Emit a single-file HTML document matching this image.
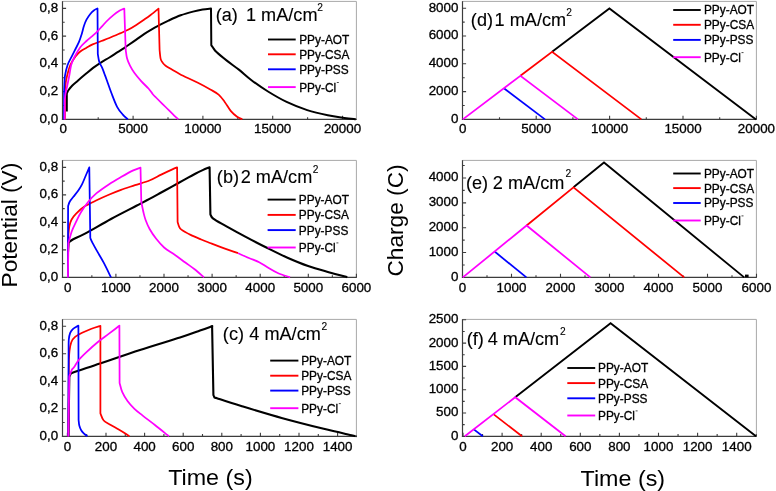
<!DOCTYPE html>
<html><head><meta charset="utf-8"><style>
html,body{margin:0;padding:0;background:#fff;width:776px;height:491px;overflow:hidden;}
svg{display:block;will-change:transform;}
text{font-family:"Liberation Sans",sans-serif;}
.s{stroke:#000;stroke-width:0.3px;}
.t{stroke:#000;stroke-width:0.12px;}
</style></head><body>
<svg width="776" height="491" viewBox="0 0 776 491" style="position:absolute;left:0;top:0;font-family:'Liberation Sans', sans-serif">
<rect width="776" height="491" fill="#fff"/>
<line x1="62.5" y1="1.4" x2="356.4" y2="1.4" stroke="#a8a8a8" stroke-width="1"/>
<line x1="356.4" y1="1.4" x2="356.4" y2="119.4" stroke="#a8a8a8" stroke-width="1"/>
<line x1="62.5" y1="1.2" x2="62.5" y2="120" stroke="#3c3c3c" stroke-width="1.2"/>
<line x1="61.9" y1="119.4" x2="356.8" y2="119.4" stroke="#3c3c3c" stroke-width="1.2"/>
<path d="M62.5,91.64h3.6M62.5,63.88h3.6M62.5,36.12h3.6M62.5,8.36h3.6M62.5,105.52h2.2M62.5,77.76h2.2M62.5,50h2.2M62.5,22.24h2.2" stroke="#3c3c3c" stroke-width="1.1" fill="none"/>
<path d="M133.1,119.4v-3.6M202.9,119.4v-3.6M272.7,119.4v-3.6M342.5,119.4v-3.6M98.2,119.4v-2.2M168,119.4v-2.2M237.8,119.4v-2.2M307.6,119.4v-2.2" stroke="#3c3c3c" stroke-width="1.1" fill="none"/>
<text transform="translate(58.1,122.8) scale(1.03,1)" font-size="13" text-anchor="end" fill="#000" class="s">0,0</text>
<text transform="translate(58.1,95.04) scale(1.03,1)" font-size="13" text-anchor="end" fill="#000" class="s">0,2</text>
<text transform="translate(58.1,67.28) scale(1.03,1)" font-size="13" text-anchor="end" fill="#000" class="s">0,4</text>
<text transform="translate(58.1,39.52) scale(1.03,1)" font-size="13" text-anchor="end" fill="#000" class="s">0,6</text>
<text transform="translate(58.1,11.76) scale(1.03,1)" font-size="13" text-anchor="end" fill="#000" class="s">0,8</text>
<text transform="translate(63.3,132.6) scale(1.03,1)" font-size="13" text-anchor="middle" fill="#000" class="s">0</text>
<text transform="translate(133.1,132.6) scale(1.03,1)" font-size="13" text-anchor="middle" fill="#000" class="s">5000</text>
<text transform="translate(202.9,132.6) scale(1.03,1)" font-size="13" text-anchor="middle" fill="#000" class="s">10000</text>
<text transform="translate(272.7,132.6) scale(1.03,1)" font-size="13" text-anchor="middle" fill="#000" class="s">15000</text>
<text transform="translate(342.5,132.6) scale(1.03,1)" font-size="13" text-anchor="middle" fill="#000" class="s">20000</text>
<path d="M66.8,111.4 L66.8,93.5 C67.1,92.92 67.72,91.3 68.6,90 C69.48,88.7 70.57,87.25 72.1,85.7 C73.63,84.15 75.65,82.55 77.8,80.7 C79.95,78.85 82.45,76.73 85,74.6 C87.55,72.47 90.52,69.87 93.1,67.9 C95.68,65.93 97.78,64.53 100.5,62.8 C103.22,61.07 106.55,59.27 109.4,57.5 C112.25,55.73 115.15,53.77 117.6,52.2 C120.05,50.63 122.35,49.25 124.1,48.1 C125.85,46.95 126.07,46.72 128.1,45.3 C130.13,43.88 133.58,41.52 136.3,39.6 C139.02,37.68 141.68,35.6 144.4,33.8 C147.12,32 150.32,30.13 152.6,28.8 C154.88,27.47 155.45,27.17 158.1,25.8 C160.75,24.43 164.73,22.35 168.5,20.6 C172.27,18.85 176.62,16.8 180.7,15.3 C184.78,13.8 189.33,12.57 193,11.6 C196.67,10.63 199.7,10 202.7,9.5 C205.7,9 209.62,8.75 211,8.6 L211.3,45.2 C211.58,45.6 212.13,46.47 213,47.6 C213.87,48.73 214.2,49.83 216.5,52 C218.8,54.17 223.02,57.62 226.8,60.6 C230.58,63.58 235.08,66.63 239.2,69.9 C243.32,73.17 246.7,76.6 251.5,80.2 C256.3,83.8 262.15,87.88 268,91.5 C273.85,95.12 280.07,98.8 286.6,101.9 C293.13,105 300.33,107.87 307.2,110.1 C314.07,112.33 321.62,114 327.8,115.3 C333.98,116.6 339.63,117.23 344.3,117.9 C348.97,118.57 353.88,119.07 355.8,119.3" fill="none" stroke="#000" stroke-width="2" stroke-linejoin="round" stroke-linecap="butt"/>
<path d="M64.9,119.4 L65.1,92 C65.2,90.47 65.37,85.52 65.7,82.8 C66.03,80.08 66.33,78.67 67.1,75.7 C67.87,72.73 68.9,68.22 70.3,65 C71.7,61.78 73.83,58.65 75.5,56.4 C77.17,54.15 78.47,52.93 80.3,51.5 C82.13,50.07 84.45,48.98 86.5,47.8 C88.55,46.62 90.13,45.53 92.6,44.4 C95.07,43.27 98.52,42.07 101.3,41 C104.08,39.93 106.18,39.27 109.3,38 C112.42,36.73 116.87,34.77 120,33.4 C123.13,32.03 125.38,31.22 128.1,29.8 C130.82,28.38 133.72,26.53 136.3,24.9 C138.88,23.27 141.22,21.65 143.6,20 C145.98,18.35 148.12,16.9 150.6,15 C153.08,13.1 157.18,9.67 158.5,8.6 L159.6,50 C159.77,51.43 160.12,56.52 160.6,58.6 C161.08,60.68 161.67,61.32 162.5,62.5 C163.33,63.68 163.9,64.45 165.6,65.7 C167.3,66.95 170.3,68.58 172.7,70 C175.1,71.42 175.8,72.07 180,74.2 C184.2,76.33 192.85,80.25 197.9,82.8 C202.95,85.35 206.85,87.53 210.3,89.5 C213.75,91.47 216.2,92.53 218.6,94.6 C221,96.67 222.65,99.15 224.7,101.9 C226.75,104.65 228.83,108.63 230.9,111.1 C232.97,113.57 235.2,115.33 237.1,116.7 C239,118.07 241.43,118.87 242.3,119.3" fill="none" stroke="#ff0000" stroke-width="1.75" stroke-linejoin="round" stroke-linecap="butt"/>
<path d="M64,119.4 L64.1,92 C64.13,91.07 64.15,89.12 64.3,86.4 C64.45,83.68 64.45,79.27 65,75.7 C65.55,72.13 66.47,68.22 67.6,65 C68.73,61.78 70.48,59.07 71.8,56.4 C73.12,53.73 74.28,51.45 75.5,49 C76.72,46.55 78.08,44.13 79.1,41.7 C80.12,39.27 80.78,37.05 81.6,34.4 C82.42,31.75 83.18,28.25 84,25.8 C84.82,23.35 85.48,21.63 86.5,19.7 C87.52,17.77 88.88,15.73 90.1,14.2 C91.32,12.67 92.57,11.45 93.8,10.5 C95.03,9.55 96.88,8.83 97.5,8.5 L97.8,54 C98.05,55.33 98.58,59.72 99.3,62 C100.02,64.28 101.22,65.67 102.1,67.7 C102.98,69.73 103.77,71.98 104.6,74.2 C105.43,76.42 105.97,77.87 107.1,81 C108.23,84.13 109.73,88.7 111.4,93 C113.07,97.3 115.2,103.2 117.1,106.8 C119,110.4 121.02,112.52 122.8,114.6 C124.58,116.68 126.97,118.52 127.8,119.3" fill="none" stroke="#0000ff" stroke-width="1.75" stroke-linejoin="round" stroke-linecap="butt"/>
<path d="M64.6,119.6 L64.8,100 C64.93,98.83 65.22,95.27 65.6,93 C65.98,90.73 66.48,89.28 67.1,86.4 C67.72,83.52 68.62,79.27 69.3,75.7 C69.98,72.13 70.38,68.03 71.2,65 C72.02,61.97 72.68,60.47 74.2,57.5 C75.72,54.53 78.25,49.95 80.3,47.2 C82.35,44.45 84.45,42.9 86.5,41 C88.55,39.1 90.77,37.42 92.6,35.8 C94.43,34.18 95.93,32.87 97.5,31.3 C99.07,29.73 100.52,28.03 102,26.4 C103.48,24.77 104.45,23.42 106.4,21.5 C108.35,19.58 111.47,16.72 113.7,14.9 C115.93,13.08 118.03,11.65 119.8,10.6 C121.57,9.55 123.55,8.93 124.3,8.6 L125.7,50 C125.93,51.43 126.38,55.98 127.1,58.6 C127.82,61.22 128.8,63.33 130,65.7 C131.2,68.07 132.4,70.18 134.3,72.8 C136.2,75.42 139.03,78.78 141.4,81.4 C143.77,84.02 146.6,86.37 148.5,88.5 C150.4,90.63 151.38,92.53 152.8,94.2 C154.22,95.87 154.87,96.37 157,98.5 C159.13,100.63 162.73,104.15 165.6,107 C168.47,109.85 172.07,113.55 174.2,115.6 C176.33,117.65 177.7,118.68 178.4,119.3" fill="none" stroke="#ff00ff" stroke-width="1.75" stroke-linejoin="round" stroke-linecap="butt"/>
<line x1="268" y1="39.5" x2="295.7" y2="39.5" stroke="#000" stroke-width="1.9"/>
<text transform="translate(299.2,43.9) scale(0.99,1)" font-size="12" text-anchor="start" fill="#000" class="s">PPy-AOT</text>
<line x1="268" y1="54.3" x2="295.7" y2="54.3" stroke="#ff0000" stroke-width="1.9"/>
<text transform="translate(299.2,58.7) scale(0.99,1)" font-size="12" text-anchor="start" fill="#000" class="s">PPy-CSA</text>
<line x1="268" y1="69.3" x2="295.7" y2="69.3" stroke="#0000ff" stroke-width="1.9"/>
<text transform="translate(299.2,73.7) scale(0.99,1)" font-size="12" text-anchor="start" fill="#000" class="s">PPy-PSS</text>
<line x1="268" y1="87.1" x2="295.7" y2="87.1" stroke="#ff00ff" stroke-width="1.9"/>
<text transform="translate(299.2,91.5) scale(0.99,1)" font-size="12" text-anchor="start" fill="#000" class="s">PPy-Cl</text>
<line x1="336.8" y1="82.5" x2="338.8" y2="82.5" stroke="#333" stroke-width="0.9"/>
<text transform="translate(215.66,21.2) scale(1.03,1)" font-size="17.6" text-anchor="start" fill="#000" class="t">(a)</text>
<text transform="translate(245.99,21.2) scale(1.03,1)" font-size="17.6" text-anchor="start" fill="#000" class="t">1 mA/cm</text>
<text transform="translate(317.35,11.2)" font-size="10.2" text-anchor="start" fill="#000" class="t">2</text>
<line x1="62.5" y1="160.4" x2="356.4" y2="160.4" stroke="#a8a8a8" stroke-width="1"/>
<line x1="356.4" y1="160.4" x2="356.4" y2="277.4" stroke="#a8a8a8" stroke-width="1"/>
<line x1="62.5" y1="160.2" x2="62.5" y2="278" stroke="#3c3c3c" stroke-width="1.2"/>
<line x1="61.9" y1="277.4" x2="356.8" y2="277.4" stroke="#3c3c3c" stroke-width="1.2"/>
<path d="M62.5,249.9h3.6M62.5,222.4h3.6M62.5,194.9h3.6M62.5,167.4h3.6M62.5,263.65h2.2M62.5,236.15h2.2M62.5,208.65h2.2M62.5,181.15h2.2" stroke="#3c3c3c" stroke-width="1.1" fill="none"/>
<path d="M67.8,277.4v-3.6M115.9,277.4v-3.6M164,277.4v-3.6M212.1,277.4v-3.6M260.2,277.4v-3.6M308.3,277.4v-3.6M356.4,277.4v-3.6M91.85,277.4v-2.2M139.95,277.4v-2.2M188.05,277.4v-2.2M236.15,277.4v-2.2M284.25,277.4v-2.2M332.35,277.4v-2.2" stroke="#3c3c3c" stroke-width="1.1" fill="none"/>
<text transform="translate(58.1,280.8) scale(1.03,1)" font-size="13" text-anchor="end" fill="#000" class="s">0,0</text>
<text transform="translate(58.1,253.3) scale(1.03,1)" font-size="13" text-anchor="end" fill="#000" class="s">0,2</text>
<text transform="translate(58.1,225.8) scale(1.03,1)" font-size="13" text-anchor="end" fill="#000" class="s">0,4</text>
<text transform="translate(58.1,198.3) scale(1.03,1)" font-size="13" text-anchor="end" fill="#000" class="s">0,6</text>
<text transform="translate(58.1,170.8) scale(1.03,1)" font-size="13" text-anchor="end" fill="#000" class="s">0,8</text>
<text transform="translate(67.8,291.6) scale(1.03,1)" font-size="13" text-anchor="middle" fill="#000" class="s">0</text>
<text transform="translate(115.9,291.6) scale(1.03,1)" font-size="13" text-anchor="middle" fill="#000" class="s">1000</text>
<text transform="translate(164,291.6) scale(1.03,1)" font-size="13" text-anchor="middle" fill="#000" class="s">2000</text>
<text transform="translate(212.1,291.6) scale(1.03,1)" font-size="13" text-anchor="middle" fill="#000" class="s">3000</text>
<text transform="translate(260.2,291.6) scale(1.03,1)" font-size="13" text-anchor="middle" fill="#000" class="s">4000</text>
<text transform="translate(308.3,291.6) scale(1.03,1)" font-size="13" text-anchor="middle" fill="#000" class="s">5000</text>
<text transform="translate(356.4,291.6) scale(1.03,1)" font-size="13" text-anchor="middle" fill="#000" class="s">6000</text>
<path d="M68,252 L68.6,242.4 C69.37,241.87 70.38,240.7 73.2,239.2 C76.02,237.7 79.2,236.77 85.5,233.4 C91.8,230.03 102.52,223.6 111,219 C119.48,214.4 129.9,209.18 136.4,205.8 C142.9,202.42 145.87,200.92 150,198.7 C154.13,196.48 157.47,194.57 161.2,192.5 C164.93,190.43 168.67,188.35 172.4,186.3 C176.13,184.25 179.87,182.25 183.6,180.2 C187.33,178.15 191.62,175.68 194.8,174 C197.98,172.32 200.23,171.22 202.7,170.1 C205.17,168.98 208.45,167.77 209.6,167.3 L210.4,214.4 C210.87,215.1 210.67,216.7 213.2,218.6 C215.73,220.5 220.1,222.72 225.6,225.8 C231.1,228.88 239.32,233.43 246.2,237.1 C253.08,240.77 260.02,244.37 266.9,247.8 C273.78,251.23 280.63,254.67 287.5,257.7 C294.37,260.73 301.23,263.58 308.1,266 C314.97,268.42 322.17,270.33 328.7,272.2 C335.23,274.07 344.2,276.37 347.3,277.2" fill="none" stroke="#000" stroke-width="2.1" stroke-linejoin="round" stroke-linecap="butt"/>
<path d="M68,277.4 L68.3,236 C68.48,234.33 68.85,228.75 69.4,226 C69.95,223.25 70.52,221.53 71.6,219.5 C72.68,217.47 73.77,215.95 75.9,213.8 C78.03,211.65 80.95,208.85 84.4,206.6 C87.85,204.35 92.53,202.27 96.6,200.3 C100.67,198.33 104.73,196.53 108.8,194.8 C112.87,193.07 116.63,191.5 121,189.9 C125.37,188.3 130.17,186.82 135,185.2 C139.83,183.58 145.63,181.97 150,180.2 C154.37,178.43 157.47,176.4 161.2,174.6 C164.93,172.8 169.75,170.6 172.4,169.4 C175.05,168.2 176.32,167.73 177.1,167.4 L177.6,222 C177.83,222.72 178.37,225.03 179,226.3 C179.63,227.57 179.47,228.17 181.4,229.6 C183.33,231.03 187.3,233.25 190.6,234.9 C193.9,236.55 197.97,238.15 201.2,239.5 C204.43,240.85 206.62,241.68 210,243 C213.38,244.32 216.83,245.7 221.5,247.4 C226.17,249.1 235.25,252.23 238,253.2" fill="none" stroke="#ff0000" stroke-width="1.75" stroke-linejoin="round" stroke-linecap="butt"/>
<path d="M238,253.2 C239.82,254 245.37,256.5 248.9,258 C252.43,259.5 256.12,260.65 259.2,262.2 C262.28,263.75 264.32,265.5 267.4,267.3 C270.48,269.1 273.92,271.33 277.7,273 C281.48,274.67 288.03,276.58 290.1,277.3" fill="none" stroke="#ff00ff" stroke-width="1.75" stroke-linejoin="round" stroke-linecap="butt"/>
<path d="M67.9,277.4 L68.1,206 C68.38,205.25 68.92,203.03 69.8,201.5 C70.68,199.97 71.98,198.63 73.4,196.8 C74.82,194.97 76.87,192.57 78.3,190.5 C79.73,188.43 80.78,186.82 82,184.4 C83.22,181.98 84.38,178.83 85.6,176 C86.82,173.17 88.68,168.83 89.3,167.4 L90.3,238 C90.67,238.8 91.15,240.23 92.5,242.8 C93.85,245.37 96.53,250.08 98.4,253.4 C100.27,256.72 101.6,258.72 103.7,262.7 C105.8,266.68 109.78,274.87 111,277.3" fill="none" stroke="#0000ff" stroke-width="1.75" stroke-linejoin="round" stroke-linecap="butt"/>
<path d="M67.9,277.6 L68.4,243 C68.98,241 70.65,234.47 71.9,231 C73.15,227.53 74.42,225.28 75.9,222.2 C77.38,219.12 78.77,215.87 80.8,212.5 C82.83,209.13 85.47,205.22 88.1,202 C90.73,198.78 93.15,196.13 96.6,193.2 C100.05,190.27 104.73,187.08 108.8,184.4 C112.87,181.72 116.92,179.43 121,177.1 C125.08,174.77 130.05,171.98 133.3,170.4 C136.55,168.82 139.3,168.07 140.5,167.6 L141.3,202 C141.67,203.75 142.78,209.5 143.5,212.5 C144.22,215.5 144.58,217.25 145.6,220 C146.62,222.75 147.83,225.87 149.6,229 C151.37,232.13 153.78,235.72 156.2,238.8 C158.62,241.88 161.02,244.85 164.1,247.5 C167.18,250.15 171.17,252.2 174.7,254.7 C178.23,257.2 181.98,260.07 185.3,262.5 C188.62,264.93 191.5,266.83 194.6,269.3 C197.7,271.77 202.35,275.97 203.9,277.3" fill="none" stroke="#ff00ff" stroke-width="1.75" stroke-linejoin="round" stroke-linecap="butt"/>
<line x1="267.6" y1="199.6" x2="295.7" y2="199.6" stroke="#000" stroke-width="1.9"/>
<text transform="translate(298.8,204) scale(0.99,1)" font-size="12" text-anchor="start" fill="#000" class="s">PPy-AOT</text>
<line x1="267.6" y1="214.9" x2="295.7" y2="214.9" stroke="#ff0000" stroke-width="1.9"/>
<text transform="translate(298.8,219.3) scale(0.99,1)" font-size="12" text-anchor="start" fill="#000" class="s">PPy-CSA</text>
<line x1="267.6" y1="230.1" x2="295.7" y2="230.1" stroke="#0000ff" stroke-width="1.9"/>
<text transform="translate(298.8,234.5) scale(0.99,1)" font-size="12" text-anchor="start" fill="#000" class="s">PPy-PSS</text>
<line x1="267.6" y1="247.5" x2="295.7" y2="247.5" stroke="#ff00ff" stroke-width="1.9"/>
<text transform="translate(298.8,251.9) scale(0.99,1)" font-size="12" text-anchor="start" fill="#000" class="s">PPy-Cl</text>
<line x1="336.4" y1="242.9" x2="338.4" y2="242.9" stroke="#333" stroke-width="0.9"/>
<text transform="translate(216.86,182.9) scale(1.03,1)" font-size="17.6" text-anchor="start" fill="#000" class="t">(b)</text>
<text transform="translate(240.74,182.9) scale(1.03,1)" font-size="17.6" text-anchor="start" fill="#000" class="t">2 mA/cm</text>
<text transform="translate(312.85,172.8)" font-size="10.2" text-anchor="start" fill="#000" class="t">2</text>
<line x1="62.5" y1="319.4" x2="356.4" y2="319.4" stroke="#a8a8a8" stroke-width="1"/>
<line x1="356.4" y1="319.4" x2="356.4" y2="436.3" stroke="#a8a8a8" stroke-width="1"/>
<line x1="62.5" y1="319.2" x2="62.5" y2="436.9" stroke="#3c3c3c" stroke-width="1.2"/>
<line x1="61.9" y1="436.3" x2="356.8" y2="436.3" stroke="#3c3c3c" stroke-width="1.2"/>
<path d="M62.5,408.8h3.6M62.5,381.3h3.6M62.5,353.8h3.6M62.5,326.3h3.6M62.5,422.55h2.2M62.5,395.05h2.2M62.5,367.55h2.2M62.5,340.05h2.2" stroke="#3c3c3c" stroke-width="1.1" fill="none"/>
<path d="M67.4,436.3v-3.6M106,436.3v-3.6M144.6,436.3v-3.6M183.2,436.3v-3.6M221.8,436.3v-3.6M260.4,436.3v-3.6M299,436.3v-3.6M337.6,436.3v-3.6M86.7,436.3v-2.2M125.3,436.3v-2.2M163.9,436.3v-2.2M202.5,436.3v-2.2M241.1,436.3v-2.2M279.7,436.3v-2.2M318.3,436.3v-2.2" stroke="#3c3c3c" stroke-width="1.1" fill="none"/>
<text transform="translate(58.1,439.7) scale(1.03,1)" font-size="13" text-anchor="end" fill="#000" class="s">0,0</text>
<text transform="translate(58.1,412.2) scale(1.03,1)" font-size="13" text-anchor="end" fill="#000" class="s">0,2</text>
<text transform="translate(58.1,384.7) scale(1.03,1)" font-size="13" text-anchor="end" fill="#000" class="s">0,4</text>
<text transform="translate(58.1,357.2) scale(1.03,1)" font-size="13" text-anchor="end" fill="#000" class="s">0,6</text>
<text transform="translate(58.1,329.7) scale(1.03,1)" font-size="13" text-anchor="end" fill="#000" class="s">0,8</text>
<text transform="translate(67.4,450.5) scale(1.03,1)" font-size="13" text-anchor="middle" fill="#000" class="s">0</text>
<text transform="translate(106,450.5) scale(1.03,1)" font-size="13" text-anchor="middle" fill="#000" class="s">200</text>
<text transform="translate(144.6,450.5) scale(1.03,1)" font-size="13" text-anchor="middle" fill="#000" class="s">400</text>
<text transform="translate(183.2,450.5) scale(1.03,1)" font-size="13" text-anchor="middle" fill="#000" class="s">600</text>
<text transform="translate(221.8,450.5) scale(1.03,1)" font-size="13" text-anchor="middle" fill="#000" class="s">800</text>
<text transform="translate(260.4,450.5) scale(1.03,1)" font-size="13" text-anchor="middle" fill="#000" class="s">1000</text>
<text transform="translate(299,450.5) scale(1.03,1)" font-size="13" text-anchor="middle" fill="#000" class="s">1200</text>
<text transform="translate(337.6,450.5) scale(1.03,1)" font-size="13" text-anchor="middle" fill="#000" class="s">1400</text>
<path d="M68.5,436 L69.3,377 C69.47,376.6 69.77,375.3 70.3,374.6 C70.83,373.9 67.55,374.63 72.5,372.8 C77.45,370.97 88.75,367.4 100,363.6 C111.25,359.8 126.67,354.33 140,350 C153.33,345.67 170,340.83 180,337.6 C190,334.37 194.62,332.52 200,330.6 C205.38,328.68 210.25,326.85 212.3,326.1 L212.1,326.2 L213.4,395 C213.6,395.4 214,396.85 214.6,397.4 C215.2,397.95 212.57,396.87 217,398.3 C221.43,399.73 230.28,402.68 241.2,406 C252.12,409.32 268.75,414.4 282.5,418.2 C296.25,422 312.02,425.92 323.7,428.8 C335.38,431.68 347.3,434.25 352.6,435.5 C357.9,436.75 355.02,436.17 355.5,436.3" fill="none" stroke="#000" stroke-width="2.1" stroke-linejoin="round" stroke-linecap="butt"/>
<path d="M68.3,436.3 L68.9,360 C69,358.47 69.08,353.8 69.5,350.8 C69.92,347.8 70.47,344.32 71.4,342 C72.33,339.68 73.22,338.48 75.1,336.9 C76.98,335.32 79.97,333.87 82.7,332.5 C85.43,331.13 88.55,329.82 91.5,328.7 C94.45,327.58 98.92,326.28 100.4,325.8 L100.4,413.4 C100.95,414.58 102.05,418.62 103.7,420.5 C105.35,422.38 107.87,423.23 110.3,424.7 C112.73,426.17 115.87,427.87 118.3,429.3 C120.73,430.73 123.03,432.13 124.9,433.3 C126.77,434.47 128.73,435.8 129.5,436.3" fill="none" stroke="#ff0000" stroke-width="1.75" stroke-linejoin="round" stroke-linecap="butt"/>
<path d="M68.3,436.3 L68.6,349.5 C68.63,347.83 68.55,342.23 68.8,339.5 C69.05,336.77 69.47,334.78 70.1,333.1 C70.73,331.42 71.55,330.45 72.6,329.4 C73.65,328.35 75.43,327.43 76.4,326.8 C77.37,326.17 78.07,325.8 78.4,325.6 L78.6,420 C78.72,420.92 78.87,423.8 79.3,425.5 C79.73,427.2 80.42,428.85 81.2,430.2 C81.98,431.55 82.98,432.6 84,433.6 C85.02,434.6 86.75,435.77 87.3,436.2" fill="none" stroke="#0000ff" stroke-width="1.75" stroke-linejoin="round" stroke-linecap="butt"/>
<path d="M68.3,436.5 L69.3,376.3 C69.72,375.22 71.02,371.32 71.8,369.8 C72.58,368.28 72.82,368.87 74,367.2 C75.18,365.53 76.82,362.32 78.9,359.8 C80.98,357.28 83.33,355.07 86.5,352.1 C89.67,349.13 94.32,344.95 97.9,342 C101.48,339.05 105.07,336.62 108,334.4 C110.93,332.18 113.6,330.17 115.5,328.7 C117.4,327.23 118.75,326.12 119.4,325.6 L119.6,383 C120.05,384.53 120.98,389.2 122.3,392.2 C123.62,395.2 125.52,398.27 127.5,401 C129.48,403.73 131.72,406.2 134.2,408.6 C136.68,411 138.95,412.67 142.4,415.4 C145.85,418.13 150.75,421.75 154.9,425 C159.05,428.25 164.95,433.02 167.3,434.9 C169.65,436.78 168.72,436.07 169,436.3" fill="none" stroke="#ff00ff" stroke-width="1.75" stroke-linejoin="round" stroke-linecap="butt"/>
<line x1="270.2" y1="360.6" x2="298.4" y2="360.6" stroke="#000" stroke-width="1.9"/>
<text transform="translate(301.2,365) scale(0.99,1)" font-size="12" text-anchor="start" fill="#000" class="s">PPy-AOT</text>
<line x1="270.2" y1="375.7" x2="298.4" y2="375.7" stroke="#ff0000" stroke-width="1.9"/>
<text transform="translate(301.2,380.1) scale(0.99,1)" font-size="12" text-anchor="start" fill="#000" class="s">PPy-CSA</text>
<line x1="270.2" y1="390.6" x2="298.4" y2="390.6" stroke="#0000ff" stroke-width="1.9"/>
<text transform="translate(301.2,395) scale(0.99,1)" font-size="12" text-anchor="start" fill="#000" class="s">PPy-PSS</text>
<line x1="270.2" y1="408.2" x2="298.4" y2="408.2" stroke="#ff00ff" stroke-width="1.9"/>
<text transform="translate(301.2,412.6) scale(0.99,1)" font-size="12" text-anchor="start" fill="#000" class="s">PPy-Cl</text>
<line x1="338.8" y1="403.6" x2="340.8" y2="403.6" stroke="#333" stroke-width="0.9"/>
<text transform="translate(222.86,340.4) scale(1.03,1)" font-size="17.6" text-anchor="start" fill="#000" class="t">(c)</text>
<text transform="translate(249.3,340.4) scale(1.03,1)" font-size="17.6" text-anchor="start" fill="#000" class="t">4 mA/cm</text>
<text transform="translate(321.45,330.1)" font-size="10.2" text-anchor="start" fill="#000" class="t">2</text>
<line x1="462.5" y1="1.4" x2="756.4" y2="1.4" stroke="#a8a8a8" stroke-width="1"/>
<line x1="756.4" y1="1.4" x2="756.4" y2="119.4" stroke="#a8a8a8" stroke-width="1"/>
<line x1="462.5" y1="1.2" x2="462.5" y2="120" stroke="#3c3c3c" stroke-width="1.2"/>
<line x1="461.9" y1="119.4" x2="756.8" y2="119.4" stroke="#3c3c3c" stroke-width="1.2"/>
<path d="M462.5,91.6h3.6M462.5,63.8h3.6M462.5,36h3.6M462.5,8.2h3.6M462.5,105.5h2.2M462.5,77.7h2.2M462.5,49.9h2.2M462.5,22.1h2.2" stroke="#3c3c3c" stroke-width="1.1" fill="none"/>
<path d="M536.2,119.4v-3.6M609.6,119.4v-3.6M683,119.4v-3.6M756.4,119.4v-3.6M499.5,119.4v-2.2M572.9,119.4v-2.2M646.3,119.4v-2.2M719.7,119.4v-2.2" stroke="#3c3c3c" stroke-width="1.1" fill="none"/>
<text transform="translate(458.4,122.8) scale(1.03,1)" font-size="13" text-anchor="end" fill="#000" class="s">0</text>
<text transform="translate(458.4,95) scale(1.03,1)" font-size="13" text-anchor="end" fill="#000" class="s">2000</text>
<text transform="translate(458.4,67.2) scale(1.03,1)" font-size="13" text-anchor="end" fill="#000" class="s">4000</text>
<text transform="translate(458.4,39.4) scale(1.03,1)" font-size="13" text-anchor="end" fill="#000" class="s">6000</text>
<text transform="translate(458.4,11.6) scale(1.03,1)" font-size="13" text-anchor="end" fill="#000" class="s">8000</text>
<text transform="translate(462.8,132.6) scale(1.03,1)" font-size="13" text-anchor="middle" fill="#000" class="s">0</text>
<text transform="translate(536.2,132.6) scale(1.03,1)" font-size="13" text-anchor="middle" fill="#000" class="s">5000</text>
<text transform="translate(609.6,132.6) scale(1.03,1)" font-size="13" text-anchor="middle" fill="#000" class="s">10000</text>
<text transform="translate(683,132.6) scale(1.03,1)" font-size="13" text-anchor="middle" fill="#000" class="s">15000</text>
<text transform="translate(756.4,132.6) scale(1.03,1)" font-size="13" text-anchor="middle" fill="#000" class="s">20000</text>
<path d="M552.1,51.78L609.4,8.39L756,119.4" fill="none" stroke="#000" stroke-width="1.85" stroke-linejoin="miter"/>
<path d="M520.4,75.79L552.1,51.78L641.4,119.4" fill="none" stroke="#ff0000" stroke-width="1.75" stroke-linejoin="miter"/>
<path d="M503.9,88.28L503.9,88.28L545,119.4" fill="none" stroke="#0000ff" stroke-width="1.75" stroke-linejoin="miter"/>
<path d="M462.8,119.4L520.4,75.79L578,119.4" fill="none" stroke="#ff00ff" stroke-width="1.75" stroke-linejoin="miter"/>
<line x1="673.2" y1="10" x2="700.7" y2="10" stroke="#000" stroke-width="1.9"/>
<text transform="translate(703.9,14.4) scale(0.99,1)" font-size="12" text-anchor="start" fill="#000" class="s">PPy-AOT</text>
<line x1="673.2" y1="24.8" x2="700.7" y2="24.8" stroke="#ff0000" stroke-width="1.9"/>
<text transform="translate(703.9,29.2) scale(0.99,1)" font-size="12" text-anchor="start" fill="#000" class="s">PPy-CSA</text>
<line x1="673.2" y1="39.9" x2="700.7" y2="39.9" stroke="#0000ff" stroke-width="1.9"/>
<text transform="translate(703.9,44.3) scale(0.99,1)" font-size="12" text-anchor="start" fill="#000" class="s">PPy-PSS</text>
<line x1="673.2" y1="57.2" x2="700.7" y2="57.2" stroke="#ff00ff" stroke-width="1.9"/>
<text transform="translate(703.9,61.6) scale(0.99,1)" font-size="12" text-anchor="start" fill="#000" class="s">PPy-Cl</text>
<line x1="741.5" y1="52.6" x2="743.5" y2="52.6" stroke="#333" stroke-width="0.9"/>
<text transform="translate(470.86,25.9) scale(1.03,1)" font-size="17.6" text-anchor="start" fill="#000" class="t">(d)</text>
<text transform="translate(494.59,25.9) scale(1.03,1)" font-size="17.6" text-anchor="start" fill="#000" class="t">1 mA/cm</text>
<text transform="translate(566.25,16)" font-size="10.2" text-anchor="start" fill="#000" class="t">2</text>
<line x1="462.5" y1="160.4" x2="756.4" y2="160.4" stroke="#a8a8a8" stroke-width="1"/>
<line x1="756.4" y1="160.4" x2="756.4" y2="277.4" stroke="#a8a8a8" stroke-width="1"/>
<line x1="462.5" y1="160.2" x2="462.5" y2="278" stroke="#3c3c3c" stroke-width="1.2"/>
<line x1="461.9" y1="277.4" x2="756.8" y2="277.4" stroke="#3c3c3c" stroke-width="1.2"/>
<path d="M462.5,252.55h3.6M462.5,227.7h3.6M462.5,202.85h3.6M462.5,178h3.6M462.5,264.97h2.2M462.5,240.12h2.2M462.5,215.27h2.2M462.5,190.42h2.2M462.5,165.57h2.2" stroke="#3c3c3c" stroke-width="1.1" fill="none"/>
<path d="M462.5,277.4v-3.6M511.5,277.4v-3.6M560.5,277.4v-3.6M609.5,277.4v-3.6M658.5,277.4v-3.6M707.5,277.4v-3.6M756.5,277.4v-3.6M487,277.4v-2.2M536,277.4v-2.2M585,277.4v-2.2M634,277.4v-2.2M683,277.4v-2.2M732,277.4v-2.2" stroke="#3c3c3c" stroke-width="1.1" fill="none"/>
<text transform="translate(458.4,280.8) scale(1.03,1)" font-size="13" text-anchor="end" fill="#000" class="s">0</text>
<text transform="translate(458.4,255.95) scale(1.03,1)" font-size="13" text-anchor="end" fill="#000" class="s">1000</text>
<text transform="translate(458.4,231.1) scale(1.03,1)" font-size="13" text-anchor="end" fill="#000" class="s">2000</text>
<text transform="translate(458.4,206.25) scale(1.03,1)" font-size="13" text-anchor="end" fill="#000" class="s">3000</text>
<text transform="translate(458.4,181.4) scale(1.03,1)" font-size="13" text-anchor="end" fill="#000" class="s">4000</text>
<text transform="translate(462.5,291.6) scale(1.03,1)" font-size="13" text-anchor="middle" fill="#000" class="s">0</text>
<text transform="translate(511.5,291.6) scale(1.03,1)" font-size="13" text-anchor="middle" fill="#000" class="s">1000</text>
<text transform="translate(560.5,291.6) scale(1.03,1)" font-size="13" text-anchor="middle" fill="#000" class="s">2000</text>
<text transform="translate(609.5,291.6) scale(1.03,1)" font-size="13" text-anchor="middle" fill="#000" class="s">3000</text>
<text transform="translate(658.5,291.6) scale(1.03,1)" font-size="13" text-anchor="middle" fill="#000" class="s">4000</text>
<text transform="translate(707.5,291.6) scale(1.03,1)" font-size="13" text-anchor="middle" fill="#000" class="s">5000</text>
<text transform="translate(756.5,291.6) scale(1.03,1)" font-size="13" text-anchor="middle" fill="#000" class="s">6000</text>
<path d="M573.5,187.32L604,162.51L744.2,277.4" fill="none" stroke="#000" stroke-width="1.85" stroke-linejoin="miter"/>
<rect x="745" y="274.6" width="3.6" height="2.8" fill="#000"/>
<path d="M526.6,225.49L573.5,187.32L684.2,277.4" fill="none" stroke="#ff0000" stroke-width="1.75" stroke-linejoin="miter"/>
<path d="M494.6,251.52L494.6,251.52L526.4,277.4" fill="none" stroke="#0000ff" stroke-width="1.75" stroke-linejoin="miter"/>
<path d="M462.8,277.4L526.6,225.49L590.4,277.4" fill="none" stroke="#ff00ff" stroke-width="1.75" stroke-linejoin="miter"/>
<line x1="673.2" y1="173.5" x2="700.7" y2="173.5" stroke="#000" stroke-width="1.9"/>
<text transform="translate(703.9,177.9) scale(0.99,1)" font-size="12" text-anchor="start" fill="#000" class="s">PPy-AOT</text>
<line x1="673.2" y1="188.1" x2="700.7" y2="188.1" stroke="#ff0000" stroke-width="1.9"/>
<text transform="translate(703.9,192.5) scale(0.99,1)" font-size="12" text-anchor="start" fill="#000" class="s">PPy-CSA</text>
<line x1="673.2" y1="203" x2="700.7" y2="203" stroke="#0000ff" stroke-width="1.9"/>
<text transform="translate(703.9,207.4) scale(0.99,1)" font-size="12" text-anchor="start" fill="#000" class="s">PPy-PSS</text>
<line x1="673.2" y1="220.5" x2="700.7" y2="220.5" stroke="#ff00ff" stroke-width="1.9"/>
<text transform="translate(703.9,224.9) scale(0.99,1)" font-size="12" text-anchor="start" fill="#000" class="s">PPy-Cl</text>
<line x1="741.5" y1="215.9" x2="743.5" y2="215.9" stroke="#333" stroke-width="0.9"/>
<text transform="translate(465.96,188.5) scale(1.03,1)" font-size="17.6" text-anchor="start" fill="#000" class="t">(e)</text>
<text transform="translate(492.84,188.5) scale(1.03,1)" font-size="17.6" text-anchor="start" fill="#000" class="t">2 mA/cm</text>
<text transform="translate(565.55,177.3)" font-size="10.2" text-anchor="start" fill="#000" class="t">2</text>
<line x1="462.5" y1="319.4" x2="756.4" y2="319.4" stroke="#a8a8a8" stroke-width="1"/>
<line x1="756.4" y1="319.4" x2="756.4" y2="436.3" stroke="#a8a8a8" stroke-width="1"/>
<line x1="462.5" y1="319.2" x2="462.5" y2="436.9" stroke="#3c3c3c" stroke-width="1.2"/>
<line x1="461.9" y1="436.3" x2="756.8" y2="436.3" stroke="#3c3c3c" stroke-width="1.2"/>
<path d="M462.5,413h3.6M462.5,389.7h3.6M462.5,366.4h3.6M462.5,343.1h3.6M462.5,319.8h3.6M462.5,424.65h2.2M462.5,401.35h2.2M462.5,378.05h2.2M462.5,354.75h2.2M462.5,331.45h2.2" stroke="#3c3c3c" stroke-width="1.1" fill="none"/>
<path d="M463,436.3v-3.6M502.1,436.3v-3.6M541.2,436.3v-3.6M580.3,436.3v-3.6M619.4,436.3v-3.6M658.5,436.3v-3.6M697.6,436.3v-3.6M736.7,436.3v-3.6M482.55,436.3v-2.2M521.65,436.3v-2.2M560.75,436.3v-2.2M599.85,436.3v-2.2M638.95,436.3v-2.2M678.05,436.3v-2.2M717.15,436.3v-2.2M756.25,436.3v-2.2" stroke="#3c3c3c" stroke-width="1.1" fill="none"/>
<text transform="translate(458.4,439.7) scale(1.03,1)" font-size="13" text-anchor="end" fill="#000" class="s">0</text>
<text transform="translate(458.4,416.4) scale(1.03,1)" font-size="13" text-anchor="end" fill="#000" class="s">500</text>
<text transform="translate(458.4,393.1) scale(1.03,1)" font-size="13" text-anchor="end" fill="#000" class="s">1000</text>
<text transform="translate(458.4,369.8) scale(1.03,1)" font-size="13" text-anchor="end" fill="#000" class="s">1500</text>
<text transform="translate(458.4,346.5) scale(1.03,1)" font-size="13" text-anchor="end" fill="#000" class="s">2000</text>
<text transform="translate(458.4,323.2) scale(1.03,1)" font-size="13" text-anchor="end" fill="#000" class="s">2500</text>
<text transform="translate(463,450.5) scale(1.03,1)" font-size="13" text-anchor="middle" fill="#000" class="s">0</text>
<text transform="translate(502.1,450.5) scale(1.03,1)" font-size="13" text-anchor="middle" fill="#000" class="s">200</text>
<text transform="translate(541.2,450.5) scale(1.03,1)" font-size="13" text-anchor="middle" fill="#000" class="s">400</text>
<text transform="translate(580.3,450.5) scale(1.03,1)" font-size="13" text-anchor="middle" fill="#000" class="s">600</text>
<text transform="translate(619.4,450.5) scale(1.03,1)" font-size="13" text-anchor="middle" fill="#000" class="s">800</text>
<text transform="translate(658.5,450.5) scale(1.03,1)" font-size="13" text-anchor="middle" fill="#000" class="s">1000</text>
<text transform="translate(697.6,450.5) scale(1.03,1)" font-size="13" text-anchor="middle" fill="#000" class="s">1200</text>
<text transform="translate(736.7,450.5) scale(1.03,1)" font-size="13" text-anchor="middle" fill="#000" class="s">1400</text>
<path d="M515.2,397.2L610.6,323.19L756,436.3" fill="none" stroke="#000" stroke-width="1.85" stroke-linejoin="miter"/>
<path d="M493.4,414.11L493.4,414.11L522,436.3" fill="none" stroke="#ff0000" stroke-width="1.75" stroke-linejoin="miter"/>
<path d="M473.8,429.32L473.8,429.32L482.8,436.3" fill="none" stroke="#0000ff" stroke-width="1.75" stroke-linejoin="miter"/>
<path d="M464.8,436.3L515.2,397.2L565.6,436.3" fill="none" stroke="#ff00ff" stroke-width="1.75" stroke-linejoin="miter"/>
<line x1="567.3" y1="368" x2="595.2" y2="368" stroke="#000" stroke-width="1.9"/>
<text transform="translate(598,372.4) scale(0.99,1)" font-size="12" text-anchor="start" fill="#000" class="s">PPy-AOT</text>
<line x1="567.3" y1="383.1" x2="595.2" y2="383.1" stroke="#ff0000" stroke-width="1.9"/>
<text transform="translate(598,387.5) scale(0.99,1)" font-size="12" text-anchor="start" fill="#000" class="s">PPy-CSA</text>
<line x1="567.3" y1="398.3" x2="595.2" y2="398.3" stroke="#0000ff" stroke-width="1.9"/>
<text transform="translate(598,402.7) scale(0.99,1)" font-size="12" text-anchor="start" fill="#000" class="s">PPy-PSS</text>
<line x1="567.3" y1="415.5" x2="595.2" y2="415.5" stroke="#ff00ff" stroke-width="1.9"/>
<text transform="translate(598,419.9) scale(0.99,1)" font-size="12" text-anchor="start" fill="#000" class="s">PPy-Cl</text>
<line x1="635.6" y1="410.9" x2="637.6" y2="410.9" stroke="#333" stroke-width="0.9"/>
<text transform="translate(466.66,344.8) scale(1.03,1)" font-size="17.6" text-anchor="start" fill="#000" class="t">(f)</text>
<text transform="translate(487.7,344.8) scale(1.03,1)" font-size="17.6" text-anchor="start" fill="#000" class="t">4 mA/cm</text>
<text transform="translate(559.95,334.6)" font-size="10.2" text-anchor="start" fill="#000" class="t">2</text>
<text transform="translate(16.7,287.4) rotate(-90) scale(1.03,1)" font-size="22" text-anchor="start" fill="#000">Potential (V)</text>
<text transform="translate(403.1,276.5) rotate(-90) scale(1.03,1)" font-size="22" text-anchor="start" fill="#000">Charge (C)</text>
<text transform="translate(168.15,485.3) scale(1.04,1)" font-size="22.4" text-anchor="start" fill="#000">Time (s)</text>
<text transform="translate(580.55,485.8) scale(1.04,1)" font-size="22.4" text-anchor="start" fill="#000">Time (s)</text>
</svg>
</body></html>
